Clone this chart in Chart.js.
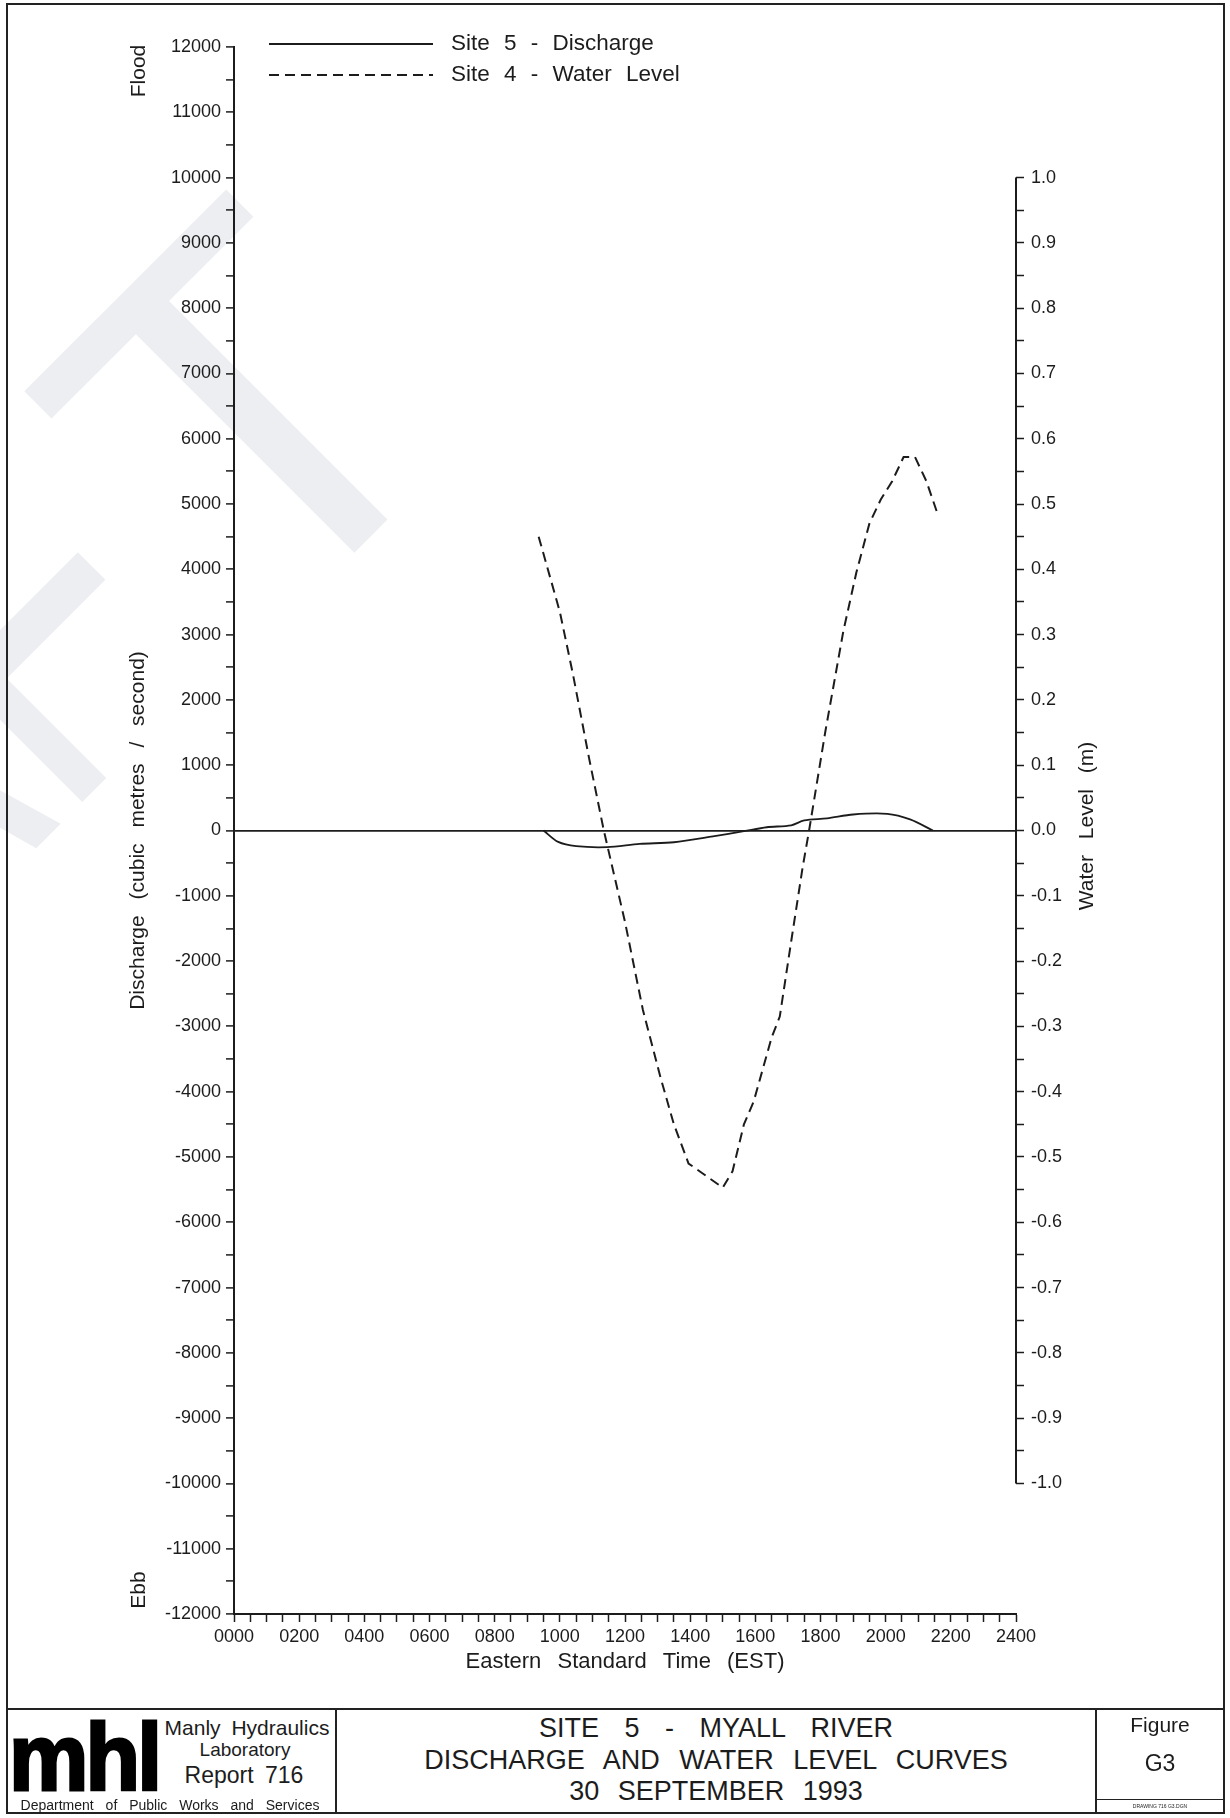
<!DOCTYPE html>
<html>
<head>
<meta charset="utf-8">
<script src="https://cdn.jsdelivr.net/npm/chart.js@4.4.1/dist/chart.umd.min.js"></script>
<style>
  html, body { margin: 0; padding: 0; background: #fff; }
  #page { position: relative; width: 1230px; height: 1818px; overflow: hidden;
          font-family: "Liberation Sans", Arial, sans-serif; color: #1c1c1c; }
  #myChart { position: absolute; left: 0; top: 0; }
  .line { position: absolute; background: #222; }
  .txt { position: absolute; white-space: nowrap; transform: translate(-50%, -50%); line-height: 1; }
</style>
</head>
<body>
<div id="page">
  <canvas id="myChart" width="1230" height="1700"></canvas>

  <!-- outer frame and title block -->
  <div class="line" style="left:6px;top:3px;width:1219px;height:2px"></div>
  <div class="line" style="left:6px;top:1812px;width:1219px;height:2px"></div>
  <div class="line" style="left:6px;top:3px;width:2px;height:1811px"></div>
  <div class="line" style="left:1223px;top:3px;width:2px;height:1811px"></div>
  <div class="line" style="left:6px;top:1708px;width:1219px;height:2px"></div>
  <div class="line" style="left:335px;top:1708px;width:2px;height:106px"></div>
  <div class="line" style="left:1095px;top:1708px;width:2px;height:106px"></div>
  <div class="line" style="left:1095px;top:1799px;width:130px;height:1px"></div>

  <div style="position:absolute;left:9px;top:1711px;font-size:94px;font-weight:bold;line-height:94px;
              transform:scaleX(0.95);transform-origin:0 0;-webkit-text-stroke:3px #000;color:#000;letter-spacing:-3px">mhl</div>
  <div class="txt" style="left:247px;top:1727px;font-size:21px;word-spacing:5px">Manly Hydraulics</div>
  <div class="txt" style="left:245px;top:1749px;font-size:19px">Laboratory</div>
  <div class="txt" style="left:244px;top:1775px;font-size:23px;word-spacing:5px">Report 716</div>
  <div class="txt" style="left:170px;top:1805px;font-size:14px;word-spacing:8px">Department of Public Works and Services</div>

  <div class="txt" style="left:716px;top:1728px;font-size:27px;word-spacing:18px">SITE 5 - MYALL RIVER</div>
  <div class="txt" style="left:716px;top:1760px;font-size:27px;word-spacing:12px">DISCHARGE AND WATER LEVEL CURVES</div>
  <div class="txt" style="left:716px;top:1791px;font-size:27px;word-spacing:11px">30 SEPTEMBER 1993</div>

  <div class="txt" style="left:1160px;top:1724px;font-size:21px">Figure</div>
  <div class="txt" style="left:1160px;top:1763px;font-size:23px">G3</div>
  <div class="txt" style="left:1160px;top:1806px;font-size:5px">DRAWING 716 G3.DGN</div>
</div>

<script>
// time of day in decimal hours, labelled every two hours
const timeLabels = ["0000", "0200", "0400", "0600", "0800", "1000", "1200",
                    "1400", "1600", "1800", "2000", "2200", "2400"];
const flowLabels = [-12000, -11000, -10000, -9000, -8000, -7000, -6000, -5000, -4000,
                    -3000, -2000, -1000, 0, 1000, 2000, 3000, 4000, 5000, 6000, 7000,
                    8000, 9000, 10000, 11000, 12000];
const levelLabels = ["-1.0", "-0.9", "-0.8", "-0.7", "-0.6", "-0.5", "-0.4", "-0.3", "-0.2",
                     "-0.1", "0.0", "0.1", "0.2", "0.3", "0.4", "0.5", "0.6", "0.7", "0.8",
                     "0.9", "1.0"];

// Site 5 - Discharge (m3/s)
const dischargeTime = [9.5, 9.95, 10.5, 11.45, 12.45, 13.5, 14.7, 15.65, 16.35, 17.1,
                       17.5, 18.2, 19.0, 20.05, 20.75, 21.45];
const dischargeFlow = [0, -175, -240, -255, -205, -180, -90, -10, 50, 80,
                       155, 185, 245, 255, 170, 0];

// Site 4 - Water Level (m)
const levelTime = [9.35, 10.0, 10.4, 10.9, 11.35, 12.0, 12.55, 13.1, 13.5, 13.95,
                   15.0, 15.3, 15.65, 15.95, 16.5, 16.75, 17.1, 17.45, 17.65,
                   18.15, 18.7, 19.1, 19.5, 19.85, 20.2, 20.55, 20.9, 21.25, 21.6];
const levelMetres = [0.45, 0.335, 0.24, 0.11, 0.0, -0.14, -0.275, -0.38, -0.45, -0.51,
                     -0.547, -0.522, -0.45, -0.415, -0.317, -0.285, -0.17, -0.057, 0.0,
                     0.152, 0.305, 0.395, 0.47, 0.507, 0.535, 0.572, 0.572, 0.535, 0.484];

const ink = "#1c1c1c";
const fontName = "'Liberation Sans', Arial, sans-serif";

const pagePlugin = {
  id: "page",
  beforeDraw(chart) {
    const ctx = chart.ctx;
    ctx.wordSpacing = "10px";
    // faint DRAFT watermark, mostly off the page
    ctx.save();
    ctx.fillStyle = "#eceef1";
    ctx.font = "505px " + fontName;
    ctx.translate(371, 536);
    ctx.rotate(-Math.PI / 4);
    ctx.textAlign = "center";
    ctx.fillText("T", 0, 0);
    ctx.translate(-200, -16);
    ctx.scale(0.72, 1);
    ctx.textAlign = "right";
    ctx.fillText("DRAF", 0, 0);
    ctx.restore();
  },
  afterDraw(chart) {
    const ctx = chart.ctx;
    const r = chart.scales.y1;
    ctx.save();
    // right axis only spans -1.0 .. 1.0
    ctx.strokeStyle = ink;
    ctx.lineWidth = 2;
    ctx.beginPath();
    ctx.moveTo(r.left, r.getPixelForValue(1));
    ctx.lineTo(r.left, r.getPixelForValue(-1));
    ctx.stroke();

    ctx.fillStyle = ink;
    ctx.font = "21px " + fontName;
    ctx.textAlign = "center";
    ctx.textBaseline = "middle";
    const vtext = (t, x, y) => {
      ctx.save();
      ctx.translate(x, y);
      ctx.rotate(-Math.PI / 2);
      ctx.fillText(t, 0, 0);
      ctx.restore();
    };
    vtext("Water Level (m)", 1087, 826);
    vtext("Flood", 139, 71);
    vtext("Ebb", 139, 1590);

    // legend
    ctx.textAlign = "left";
    ctx.font = "22.5px " + fontName;
    ctx.wordSpacing = "8px";
    chart.data.datasets.forEach((ds, i) => {
      const y = 44 + i * 31;
      ctx.save();
      ctx.strokeStyle = ds.borderColor;
      ctx.lineWidth = ds.borderWidth;
      ctx.setLineDash(ds.borderDash || []);
      ctx.beginPath();
      ctx.moveTo(269, y);
      ctx.lineTo(433, y);
      ctx.stroke();
      ctx.restore();
      ctx.fillText(ds.label, 451, y);
    });
    ctx.restore();
  }
};

new Chart(document.getElementById("myChart"), {
  type: "line",
  data: {
    datasets: [
      {
        label: "Site 5 - Discharge",
        data: dischargeTime.map((t, i) => ({ x: t, y: dischargeFlow[i] })),
        yAxisID: "y",
        borderColor: ink,
        borderWidth: 1.8,
        pointRadius: 0,
        tension: 0.3,
      },
      {
        label: "Site 4 - Water Level",
        data: levelTime.map((t, i) => ({ x: t, y: levelMetres[i] })),
        yAxisID: "y1",
        borderColor: ink,
        borderWidth: 2,
        borderDash: [10, 6],
        pointRadius: 0,
        tension: 0,
      },
    ],
  },
  options: {
    responsive: false,
    animation: false,
    layout: { padding: { top: 47, left: 0, right: 0, bottom: 0 } },
    plugins: { legend: { display: false }, tooltip: { enabled: false } },
    scales: {
      x: {
        type: "linear",
        min: 0,
        max: 24,
        afterFit(s) { s.height = 86; },
        afterBuildTicks(s) {
          s.ticks = [];
          for (let t = 0; t <= 24; t += 0.5) s.ticks.push({ value: t });
        },
        ticks: {
          autoSkip: false,
          maxRotation: 0,
          padding: 4,
          color: ink,
          font: { family: fontName, size: 18 },
          callback: (v, i) => (i % 4 === 0 ? timeLabels[i / 4] : ""),
        },
        grid: { drawOnChartArea: false, tickLength: 8, tickColor: ink, tickWidth: 1.5 },
        border: { color: ink, width: 2 },
        title: {
          display: true,
          text: "Eastern Standard Time (EST)",
          color: ink,
          font: { family: fontName, size: 22 },
          padding: { top: 0, bottom: 25 },
        },
      },
      y: {
        position: "left",
        min: -12000,
        max: 12000,
        afterFit(s) { s.width = 234; },
        afterBuildTicks(s) {
          s.ticks = [];
          for (let v = -12000; v <= 12000; v += 500) s.ticks.push({ value: v });
        },
        ticks: {
          autoSkip: false,
          padding: 5,
          color: ink,
          font: { family: fontName, size: 18 },
          callback: (v, i) => (i % 2 === 0 ? String(flowLabels[i / 2]) : ""),
        },
        grid: {
          drawOnChartArea: true,
          color: (c) => (c.tick && c.tick.value === 0 ? ink : "rgba(0,0,0,0)"),
          lineWidth: 1.8,
          tickLength: 8,
          tickColor: ink,
          tickWidth: 1.5,
        },
        border: { color: ink, width: 2 },
        title: {
          display: true,
          text: "Discharge (cubic metres / second)",
          color: ink,
          font: { family: fontName, size: 21 },
          padding: { top: 126, bottom: 0 },
        },
      },
      y1: {
        position: "right",
        min: -1.2,
        max: 1.2,
        afterFit(s) { s.width = 214; },
        afterBuildTicks(s) {
          s.ticks = [];
          for (let k = -20; k <= 20; k++) s.ticks.push({ value: k / 20 });
        },
        ticks: {
          autoSkip: false,
          padding: 7,
          color: ink,
          font: { family: fontName, size: 18 },
          callback: (v, i) => (i % 2 === 0 ? levelLabels[i / 2] : ""),
        },
        grid: { drawOnChartArea: false, tickLength: 8, tickColor: ink, tickWidth: 1.5 },
        border: { display: false },
      },
    },
  },
  plugins: [pagePlugin],
});
</script>
</body>
</html>
